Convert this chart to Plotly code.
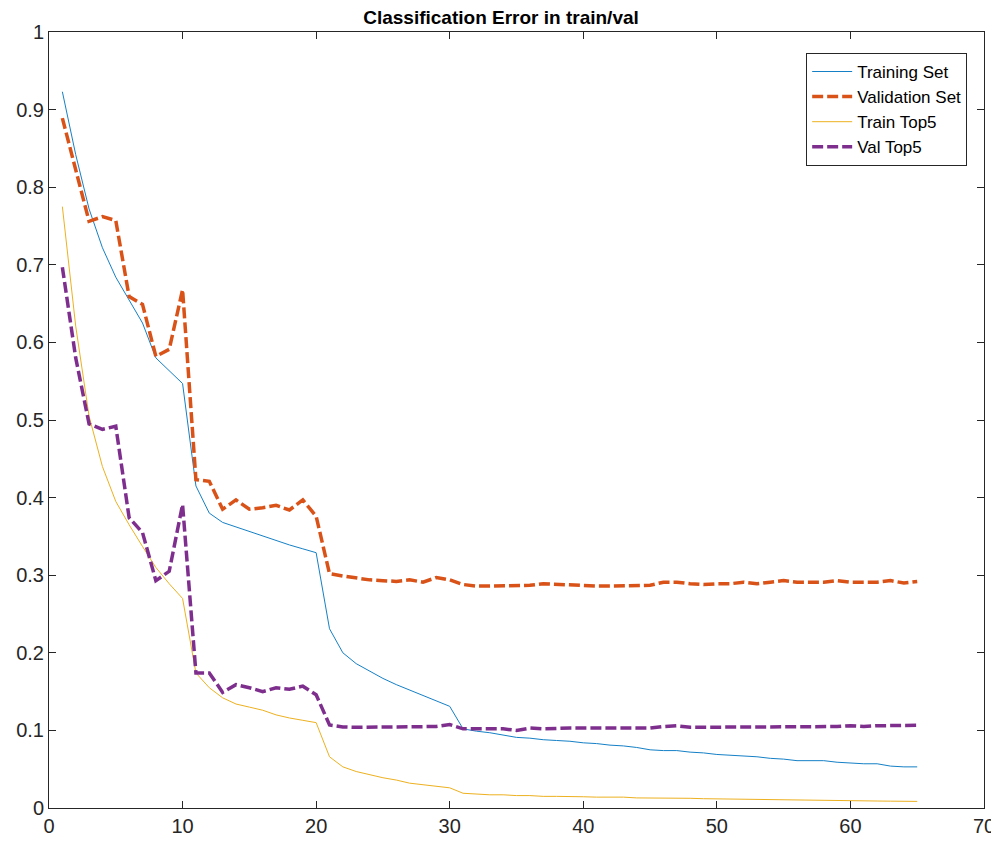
import plotly.graph_objects as go

epochs = list(range(1, 66))

training_set = [0.923, 0.842, 0.772, 0.722, 0.684, 0.654, 0.625, 0.580, 0.563, 0.547,
                0.415, 0.380, 0.368, 0.362, 0.356, 0.350, 0.344, 0.339, 0.334, 0.329,
                0.231, 0.200, 0.186, 0.176, 0.167, 0.159, 0.152, 0.145, 0.139, 0.131,
                0.102, 0.099, 0.097, 0.094, 0.091, 0.090, 0.088, 0.087, 0.086, 0.084,
                0.083, 0.081, 0.080, 0.078, 0.075, 0.074, 0.074, 0.072, 0.071, 0.069,
                0.068, 0.067, 0.066, 0.064, 0.063, 0.061, 0.061, 0.061, 0.059, 0.058,
                0.057, 0.057, 0.054, 0.053, 0.053]

validation_set = [0.889, 0.823, 0.756, 0.762, 0.757, 0.659, 0.649, 0.582, 0.591, 0.668,
                  0.423, 0.421, 0.385, 0.397, 0.385, 0.387, 0.390, 0.384, 0.397, 0.376,
                  0.302, 0.299, 0.296, 0.294, 0.293, 0.292, 0.294, 0.291, 0.297, 0.294,
                  0.288, 0.286, 0.286, 0.286, 0.286, 0.287, 0.289, 0.288, 0.287, 0.287,
                  0.286, 0.286, 0.286, 0.287, 0.287, 0.291, 0.291, 0.289, 0.288, 0.289,
                  0.289, 0.291, 0.289, 0.291, 0.293, 0.291, 0.291, 0.291, 0.293, 0.291,
                  0.291, 0.291, 0.293, 0.290, 0.292]

train_top5 = [0.775, 0.621, 0.505, 0.440, 0.395, 0.365, 0.337, 0.310, 0.289, 0.270,
              0.174, 0.155, 0.142, 0.134, 0.130, 0.126, 0.120, 0.116, 0.113, 0.110,
              0.066, 0.053, 0.047, 0.043, 0.039, 0.036, 0.032, 0.030, 0.028, 0.026,
              0.019, 0.018, 0.017, 0.017, 0.016, 0.016, 0.015, 0.015, 0.015, 0.0145,
              0.014, 0.014, 0.014, 0.013, 0.013, 0.013, 0.013, 0.0125, 0.012, 0.0117,
              0.0115, 0.011, 0.011, 0.011, 0.0107, 0.010, 0.010, 0.0098, 0.0096, 0.0095,
              0.009, 0.009, 0.0088, 0.0086, 0.0085]

val_top5 = [0.697, 0.580, 0.495, 0.488, 0.492, 0.374, 0.355, 0.293, 0.305, 0.391,
            0.174, 0.174, 0.149, 0.159, 0.155, 0.150, 0.155, 0.153, 0.157, 0.146,
            0.107, 0.1045, 0.104, 0.104, 0.104, 0.104, 0.104, 0.104, 0.105, 0.1075,
            0.102, 0.102, 0.102, 0.102, 0.100, 0.103, 0.102, 0.103, 0.103, 0.103,
            0.103, 0.102, 0.103, 0.103, 0.103, 0.105, 0.106, 0.104, 0.104, 0.105,
            0.105, 0.104, 0.105, 0.105, 0.105, 0.104, 0.105, 0.105, 0.105, 0.106,
            0.105, 0.106, 0.106, 0.106, 0.1066]

x_ticks = [0, 10, 20, 30, 40, 50, 60, 70]
y_ticks = [0, 0.1, 0.2, 0.3, 0.4, 0.5, 0.6, 0.7, 0.8, 0.9, 1]
y_tick_labels = ["0", "0.1", "0.2", "0.3", "0.4", "0.5", "0.6", "0.7", "0.8", "0.9", "1"]

FONT = "Liberation Sans, Arial, Helvetica"
DASH = "11px,4px"

fig = go.Figure()
fig.add_trace(go.Scatter(x=epochs, y=training_set, mode="lines", name="Training Set",
                         line=dict(color="#1580C6", width=1)))
fig.add_trace(go.Scatter(x=epochs, y=validation_set, mode="lines", name="Validation Set",
                         line=dict(color="#D95319", width=3.5, dash=DASH)))
fig.add_trace(go.Scatter(x=epochs, y=train_top5, mode="lines", name="Train Top5",
                         line=dict(color="#EDB120", width=1)))
fig.add_trace(go.Scatter(x=epochs, y=val_top5, mode="lines", name="Val Top5",
                         line=dict(color="#7E2F8E", width=3.5, dash=DASH)))

axis_common = dict(showgrid=False, zeroline=False, showline=True, linecolor="#262626",
                   linewidth=1, mirror="ticks", ticks="inside", ticklen=7, automargin=False,
                   tickcolor="#262626", tickfont=dict(family=FONT, size=20, color="#262626"))

# the page body has an 8px default margin, so the figure is offset by (8, 8)
fig.update_layout(
    width=991, height=835,
    margin=dict(l=41, r=15, t=24, b=35),
    paper_bgcolor="white", plot_bgcolor="white",
    title=dict(text="<b>Classification Error in train/val</b>", x=0.4975, xref="container",
               xanchor="center", y=1 - 9 / 835, yref="container", yanchor="middle",
               font=dict(family=FONT, size=19, color="black")),
    xaxis=dict(range=[0, 70], tickvals=x_ticks, **axis_common),
    yaxis=dict(range=[0, 1], tickvals=y_ticks, ticktext=y_tick_labels, **axis_common),
    legend=dict(x=0.982, y=0.973, xanchor="right", yanchor="top",
                bordercolor="#262626", borderwidth=1, bgcolor="white",
                font=dict(family=FONT, size=17, color="black"),
                tracegroupgap=0, itemwidth=40),
    showlegend=True,
)

fig.write_html("out.html")
